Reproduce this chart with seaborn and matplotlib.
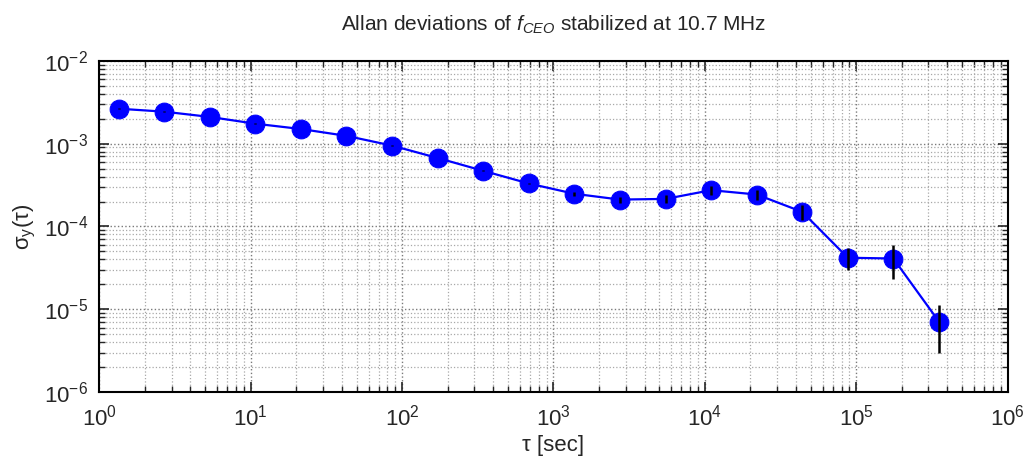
import numpy as np
import pandas as pd
import matplotlib
matplotlib.use("Agg")
import matplotlib.pyplot as plt
import seaborn as sns
from matplotlib.ticker import LogLocator, NullFormatter

# averaging times [s] and Allan deviations
tau = [1.34, 2.68, 5.37, 10.7, 21.5, 42.9, 85.9, 172, 344, 687,
       1374, 2749, 5498, 10995, 21990, 43980, 87961, 175922, 351844]
adev = [2.64e-3, 2.43e-3, 2.10e-3, 1.74e-3, 1.50e-3, 1.24e-3, 9.46e-4, 6.7e-4, 4.69e-4, 3.30e-4,
        2.48e-4, 2.11e-4, 2.15e-4, 2.74e-4, 2.43e-4, 1.50e-4, 4.19e-5, 4.1e-5, 7.1e-6]
adev_err = [1.5e-5, 1.5e-5, 1.3e-5, 1.2e-5, 1.0e-5, 1.0e-5, 9e-6, 8e-6, 7e-6, 8e-6,
            1.2e-5, 1.7e-5, 2.2e-5, 3.6e-5, 3.6e-5, 3.0e-5, 1.25e-5, 1.8e-5, 4.15e-6]

x_major = [1e0, 1e1, 1e2, 1e3, 1e4, 1e5, 1e6]
y_major = [1e-6, 1e-5, 1e-4, 1e-3, 1e-2]

title_text = r'Allan deviations of $\mathit{f}_{\mathit{CEO}}$ stabilized at 10.7 MHz'
xlabel_text = 'τ [sec]'
ylabel_text = r'σ$_\mathrm{y}$(τ)'

sns.set_style('ticks')
plt.rcParams['font.family'] = ['Liberation Sans', 'DejaVu Sans']
plt.rcParams['mathtext.fontset'] = 'custom'
plt.rcParams['mathtext.rm'] = 'Liberation Sans'
plt.rcParams['mathtext.it'] = 'Liberation Sans:italic'
plt.rcParams['mathtext.sf'] = 'Liberation Sans'

df = pd.DataFrame({'tau': tau, 'adev': adev, 'err': adev_err})

fig = plt.figure(figsize=(10.24, 4.57), dpi=100)
ax = fig.add_axes([0.097, 0.142, 0.887, 0.725])

sns.lineplot(data=df, x='tau', y='adev', ax=ax, color='blue', linewidth=1.6,
             marker='o', markersize=13.5, markeredgecolor='blue', zorder=3)
ax.errorbar(df['tau'], df['adev'], yerr=df['err'], fmt='none', ecolor='black',
            elinewidth=1.8, capsize=0, zorder=4)

ax.set_xscale('log')
ax.set_yscale('log')
ax.set_xticks(x_major)
ax.set_yticks(y_major)
ax.xaxis.set_minor_locator(LogLocator(base=10, subs=np.arange(2, 10), numticks=20))
ax.yaxis.set_minor_locator(LogLocator(base=10, subs=np.arange(2, 10), numticks=20))
ax.xaxis.set_minor_formatter(NullFormatter())
ax.yaxis.set_minor_formatter(NullFormatter())
ax.set_xlim(1, 1e6)
ax.set_ylim(1e-6, 1e-2)

ax.grid(True, which='major', linestyle=':', color='#7a7a7a', linewidth=1.0)
ax.grid(True, which='minor', linestyle=':', color='#a8a8a8', linewidth=0.9)
ax.set_axisbelow(True)

ax.tick_params(which='both', direction='in', top=True, right=True, labelsize=16)
ax.tick_params(axis='x', which='major', pad=9)
ax.tick_params(axis='y', which='major', pad=8)
ax.tick_params(which='major', length=7, width=1.2)
ax.tick_params(which='minor', length=4, width=1.0)
for s in ax.spines.values():
    s.set_linewidth(1.5)
    s.set_color('black')

ax.set_title(title_text, fontsize=15, pad=22)
ax.set_xlabel(xlabel_text, fontsize=16, labelpad=3)
ax.set_ylabel(ylabel_text, fontsize=16, labelpad=4)

fig.savefig('out.png', dpi=100)
